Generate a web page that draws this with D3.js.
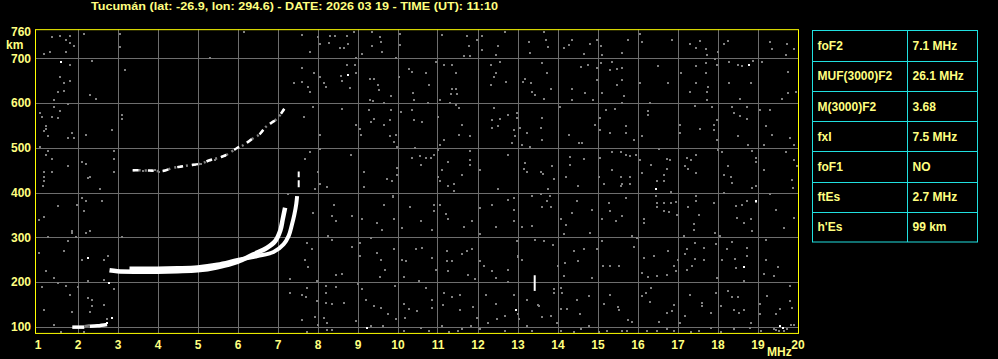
<!DOCTYPE html>
<meta charset="utf-8">
<style>
  body { margin: 0; background: #000; }
  text { font-family: "Liberation Sans", Arial, sans-serif; font-weight: bold; fill: #ffff80; }
</style>
<script src="https://d3js.org/d3.v7.min.js"></script>
<div id="my_dataviz"></div>
<script>

// ---- data ----
var titleText = "Tucumán (lat: -26.9, lon: 294.6) - DATE: 2026 03 19 - TIME (UT): 11:10";

var freqTicks = d3.range(1, 21);                       // MHz
var heightTicks = [100, 200, 300, 400, 500, 600, 700, 760]; // km

// table of scaled parameters
var paramNames  = ["foF2", "MUF(3000)F2", "M(3000)F2", "fxI", "foF1", "ftEs", "h'Es"];
var paramValues = ["7.1 MHz", "26.1 MHz", "3.68", "7.5 MHz", "NO", "2.7 MHz", "99 km"];

// ordinary F trace
var oFreq   = [2.8, 3.0, 3.5, 4.0, 4.5, 5.0, 5.5, 6.0, 6.4, 6.73, 6.94, 7.07, 7.13, 7.19];
var oHeight = [226, 224, 223, 223, 224, 226, 233, 245, 262, 276, 291, 315, 340, 366];

// extraordinary F trace
var xFreq   = [3.3, 4.0, 4.5, 5.0, 5.5, 6.0, 6.5, 6.9, 7.15, 7.28, 7.36, 7.42, 7.47, 7.49];
var xHeight = [230, 230, 231, 233, 239, 249, 258, 267, 284, 303, 328, 350, 375, 392];

// loose top piece of the x trace
var xTopFreq   = [7.53, 7.53];
var xTopHeight = [412, 447];

// second hop (2F) trace
var hop2Freq   = [3.38, 3.8, 4.13, 4.38, 4.6, 4.8, 5.1, 5.3, 5.55, 5.72, 6.0, 6.13, 6.37, 6.55, 6.7, 6.85, 7.0, 7.19];
var hop2Height = [450, 449, 448, 455, 458, 461, 465, 472, 478, 484, 500, 505, 520, 530, 546, 556, 566, 590];

// sporadic E pieces
var es1Freq = [1.87, 2.17], es1Height = [99, 99];
var es2Freq = [2.31, 2.5, 2.74], es2Height = [101, 102, 105];

// short vertical echo near 13.4 MHz
var spikeFreq = [13.43, 13.43], spikeHeight = [180, 215];

// isolated white echoes
var whitePoints = [[1.55,693],[2.23,255],[2.75,199],[2.84,122],[2.72,110],[8.73,665],[12.93,139],[18.76,688],
  [16.44,409],[18.93,383],[18.63,235],[19.53,104],[19.6,99],[9.2,99]];

// grey noise echoes
var noisePoints = [
  [1.34,749],[1.53,751],[1.78,752],[1.69,743],[1.78,736],[1.88,730],[2.13,756],[3.03,756],[3.03,728],[1.13,712],
  [1.28,717],[1.69,717],[1.78,688],[2.34,697],[3.17,675],[5.28,703],[1.53,660],[1.63,646],[1.78,652],[1.48,626],
  [1.63,630],[2.28,621],[2.44,612],[1.38,608],[1.38,594],[1.53,585],[1.73,599],[1.03,581],[1.08,572],[1.34,572],
  [1.48,568],[3.09,576],[3.09,567],[1.18,550],[1.18,545],[1.13,539],[1.23,528],[1.83,535],[1.73,524],[1.88,523],
  [2.19,531],[2.84,541],[1.03,505],[1.23,496],[1.18,487],[1.34,478],[2.89,494],[2.89,478],[2.08,470],[2.19,465],
  [1.73,461],[1.13,447],[1.34,447],[1.13,438],[1.13,429],[1.1,416],[2.28,438],[2.23,434],[2.89,447],[2.53,409],
  [2.08,390],[2.19,383],[2.58,383],[1.48,371],[1.95,374],[2.13,360],[1.13,347],[1.0,340],[1.83,316],[1.83,312],
  [2.28,316],[2.19,312],[1.23,302],[1.93,302],[3.09,302],[1.73,293],[1.63,271],[1.0,266],[2.08,252],[2.63,251],
  [2.74,260],[1.18,226],[1.38,211],[1.48,200],[1.68,194],[2.23,204],[2.63,206],[2.88,187],[1.08,191],[1.98,190],
  [1.78,172],[2.23,167],[2.33,163],[2.33,148],[2.63,151],[1.83,135],[2.28,135],[1.13,139],[1.38,107],[2.72,119],
  [1.57,90],[2.13,90],[3.6,451],[3.9,452],[4.0,447],[4.9,464],[5.05,466],[5.4,476],[5.65,484],
  // 6 - 10 MHz
  [6.13,762],[7.59,754],[7.98,749],[8.28,752],[8.4,751],[8.7,751],[8.88,762],[9.34,762],[9.53,749],[10.03,757],
  [8.03,734],[8.26,736],[8.53,725],[8.63,725],[8.73,734],[9.34,730],[9.57,739],[10.03,732],[7.78,717],[9.09,712],
  [8.93,702],[9.59,717],[9.93,702],[7.59,680],[7.88,670],[8.03,661],[7.38,646],[7.59,650],[7.73,639],[7.78,626],
  [8.13,646],[8.2,639],[8.55,663],[8.59,652],[8.7,687],[8.9,687],[8.78,635],[8.95,669],[9.28,655],[9.38,655],
  [9.48,643],[9.5,632],[9.8,617],[10.0,661],[10.26,678],[10.34,672],[10.37,624],[10.38,609],[9.28,609],[9.37,606],
  [9.63,602],[7.87,594],[7.63,571],[8.59,590],[9.26,587],[9.38,566],[9.3,559],[9.63,554],[9.78,565],[9.8,587],
  [10.05,583],[10.34,587],[10.38,565],[8.03,531],[8.93,554],[9.03,544],[9.05,531],[9.78,528],[9.93,531],[9.88,516],
  [9.97,505],[7.78,492],[7.65,478],[8.03,499],[8.8,487],[9.13,447],[9.97,457],[9.95,442],[10.34,479],[10.4,501],
  [7.98,447],[7.9,410],[8.03,422],[8.22,414],[9.13,414],[9.7,432],[9.84,429],[9.87,395],[9.87,392],[7.23,400],
  [7.87,357],[8.38,374],[8.34,349],[8.43,338],[8.84,349],[9.09,342],[9.45,334],[9.58,319],[9.63,374],[9.88,342],
  [10.09,323],[10.28,369],[8.23,306],[8.34,296],[7.7,290],[7.84,275],[8.84,281],[9.03,290],[9.03,261],[9.32,301],
  [9.45,267],[9.55,252],[9.88,275],[10.09,252],[10.18,249],[10.45,275],[7.65,252],[7.73,235],[7.28,209],[7.7,189],
  [7.97,204],[8.18,193],[8.18,178],[8.45,217],[8.59,221],[8.45,191],[8.98,197],[9.09,186],[9.53,214],[9.65,230],
  [9.9,193],[10.13,214],[7.28,178],[7.59,172],[7.68,169],[7.97,159],[8.2,156],[8.34,152],[8.63,156],[9.18,163],
  [9.38,148],[9.57,145],[9.74,130],[10.13,152],[10.26,141],[7.59,117],[7.9,125],[7.98,105],[8.13,122],[8.22,111],
  [8.22,95],[8.34,95],[7.72,90],[8.93,115],[9.3,104],[9.62,104],[9.93,119],[10.13,93],[10.15,122],
  // 10.5 - 15 MHz
  [11.09,754],[11.7,752],[11.76,730],[11.63,707],[11.78,707],[11.95,743],[12.09,752],[12.09,721],[12.48,730],[12.44,710],
  [12.65,762],[13.26,739],[13.29,715],[13.63,762],[13.68,743],[13.73,728],[14.13,726],[14.26,732],[14.34,743],[14.63,712],
  [14.78,734],[14.95,743],[15.05,730],[15.09,710],[10.94,693],[11.13,687],[11.34,687],[11.45,670],[10.7,670],[10.76,643],
  [11.34,633],[11.45,633],[11.3,623],[11.47,623],[12.3,687],[12.53,693],[12.43,670],[12.38,661],[12.7,650],[12.3,643],
  [13.15,655],[13.12,650],[13.3,648],[13.34,626],[13.4,620],[13.59,691],[13.7,670],[13.8,633],[13.63,611],[14.34,633],
  [14.57,682],[14.73,687],[14.95,680],[14.95,654],[14.34,609],[14.67,624],[14.87,609],[15.07,691],[15.09,624],[11.03,608],
  [11.28,603],[11.45,598],[11.51,591],[10.73,602],[11.0,571],[10.58,559],[11.59,554],[11.13,519],[11.51,531],[11.78,528],
  [11.03,509],[12.38,591],[12.53,566],[12.34,565],[12.34,546],[12.48,551],[12.73,576],[12.95,581],[12.97,568],[12.88,542],
  [12.9,528],[12.84,513],[13.09,509],[13.03,546],[13.22,536],[13.59,568],[13.57,546],[13.59,520],[13.29,505],[14.03,594],
  [14.26,531],[14.51,513],[14.59,513],[14.9,554],[15.03,568],[15.03,542],[15.18,587],[10.53,484],[10.7,479],[10.8,479],
  [10.88,487],[10.55,464],[11.0,498],[10.98,438],[11.03,427],[11.09,452],[11.23,470],[11.38,422],[11.23,417],[11.38,405],
  [11.59,442],[11.78,496],[11.78,474],[11.78,464],[12.03,452],[12.73,487],[12.48,409],[13.13,455],[13.17,468],[13.2,449],
  [13.55,449],[13.62,444],[13.88,432],[13.73,409],[13.84,461],[14.28,481],[14.28,464],[14.63,477],[14.18,438],[14.48,416],
  [15.03,479],[15.01,438],[15.13,422],[10.88,374],[11.03,374],[10.88,360],[11.18,355],[11.23,343],[10.55,338],[10.84,319],
  [11.63,325],[11.84,338],[12.03,368],[12.03,310],[12.34,374],[12.44,325],[12.73,386],[12.88,390],[12.88,364],[12.88,338],
  [13.09,325],[13.34,394],[13.34,328],[13.57,400],[13.7,383],[13.78,395],[13.59,370],[13.8,369],[14.05,343],[14.19,330],
  [14.13,310],[14.34,356],[14.45,383],[14.84,364],[14.78,312],[15.09,342],[10.59,278],[10.84,256],[10.94,230],[11.2,271],
  [11.2,249],[11.34,249],[11.23,226],[11.59,264],[11.7,271],[11.84,275],[11.73,217],[11.9,209],[12.03,249],[12.13,238],
  [12.34,226],[12.44,212],[12.73,230],[12.73,202],[12.97,293],[12.98,261],[12.98,257],[13.09,252],[13.4,295],[13.63,293],
  [13.87,284],[13.98,238],[14.15,245],[14.13,215],[14.38,271],[14.48,249],[14.63,275],[14.84,212],[14.95,275],[15.09,293],
  [15.12,238],[10.51,204],[10.7,189],[10.84,162],[10.84,145],[11.13,177],[11.12,150],[11.34,169],[11.53,172],[11.53,139],
  [11.87,147],[12.2,172],[12.44,152],[12.65,126],[12.88,172],[12.98,130],[13.22,163],[13.48,150],[13.5,148],[13.88,186],
  [13.88,177],[14.07,189],[14.09,178],[14.05,141],[14.22,142],[14.47,163],[14.53,130],[14.76,171],[15.13,154],[10.47,137],
  [10.55,100],[10.76,93],[11.09,104],[11.26,90],[11.48,93],[11.59,98],[11.8,104],[11.97,122],[12.03,96],[12.23,111],
  [12.47,119],[12.65,93],[13.01,119],[13.22,104],[13.34,93],[13.59,125],[13.8,126],[13.95,111],[14.05,93],[14.38,90],
  [14.55,96],[14.76,104],[15.01,90],
  // 15 - 20 MHz
  [16.03,757],[15.73,743],[15.59,715],[16.09,739],[16.84,743],[17.28,734],[17.53,741],[17.45,726],[17.68,724],[17.7,710],
  [17.98,717],[18.13,734],[18.23,741],[19.28,739],[19.33,722],[19.72,735],[19.68,710],[19.9,724],[15.34,693],[15.28,676],
  [15.45,678],[15.59,680],[15.59,654],[15.45,643],[15.63,617],[15.59,603],[16.03,648],[16.48,684],[16.73,648],[17.05,670],
  [17.28,626],[17.45,648],[17.43,684],[17.68,691],[17.68,669],[17.75,639],[17.7,628],[17.72,609],[17.9,700],[17.95,687],
  [18.26,693],[18.48,687],[18.59,684],[18.87,697],[19.09,693],[18.26,648],[18.53,611],[18.82,646],[19.73,672],[19.73,624],
  [19.93,628],[19.59,611],[15.4,588],[16.28,602],[16.23,585],[16.23,576],[15.28,535],[15.68,550],[15.7,536],[15.88,520],
  [16.09,528],[17.03,554],[17.03,536],[17.4,596],[17.53,544],[17.84,593],[17.95,565],[17.88,554],[17.88,542],[17.97,520],
  [18.34,593],[18.38,581],[18.53,574],[18.7,593],[18.7,566],[18.48,528],[18.73,509],[19.03,587],[19.28,587],[19.18,550],
  [19.34,531],[19.78,524],[19.88,509],[19.13,509],[15.34,492],[15.55,492],[15.68,487],[15.78,483],[15.93,487],[15.34,453],
  [15.55,438],[15.78,438],[15.59,422],[15.78,422],[15.55,416],[16.03,474],[16.09,446],[16.3,464],[16.51,499],[16.7,477],
  [16.78,474],[16.7,455],[16.63,442],[16.45,428],[16.65,428],[16.8,403],[17.2,479],[17.3,475],[17.15,462],[17.23,455],
  [17.45,487],[17.45,446],[17.98,498],[18.09,492],[18.23,461],[18.3,438],[18.13,442],[18.34,423],[18.84,494],[18.93,479],
  [18.95,470],[18.95,417],[18.84,412],[19.13,452],[19.68,492],[19.88,474],[19.95,461],[19.84,431],[19.87,412],[15.26,379],
  [15.28,360],[15.43,338],[15.59,349],[15.68,390],[15.84,306],[15.88,281],[15.96,301],[16.13,342],[16.13,334],[16.43,395],
  [16.45,379],[16.45,370],[16.63,379],[16.65,360],[16.76,358],[16.8,379],[16.93,380],[16.97,353],[17.24,370],[17.45,395],
  [17.45,383],[17.38,332],[17.38,319],[17.13,305],[17.51,353],[17.88,379],[17.9,312],[18.03,305],[18.13,401],[18.43,371],
  [18.47,345],[18.59,375],[18.63,334],[18.7,383],[18.82,342],[18.84,316],[18.93,380],[19.28,400],[19.43,364],[19.63,323],
  [19.88,345],[15.28,239],[15.51,239],[16.13,256],[16.09,223],[16.38,260],[16.23,214],[16.47,215],[16.7,217],[16.73,271],
  [16.98,252],[16.88,239],[16.93,226],[17.2,275],[17.15,264],[17.2,230],[17.4,290],[17.4,254],[17.34,239],[17.63,278],
  [17.63,252],[17.93,286],[17.97,212],[18.09,252],[18.34,291],[18.2,275],[18.4,254],[18.43,234],[18.7,278],[18.7,260],
  [18.63,204],[19.18,297],[19.18,252],[19.13,221],[19.38,215],[19.48,236],[19.78,194],[15.28,172],[15.48,147],[15.51,139],
  [15.73,117],[15.84,113],[16.18,178],[16.09,170],[16.3,189],[16.28,157],[16.51,113],[16.72,133],[16.88,150],[16.84,137],
  [17.03,110],[17.15,126],[17.28,172],[17.59,156],[17.59,148],[17.8,133],[17.93,178],[18.05,148],[18.23,182],[18.34,169],
  [18.48,169],[18.38,139],[18.63,139],[18.5,133],[18.8,111],[19.03,152],[19.03,130],[19.2,171],[19.43,130],[19.53,141],
  [19.78,159],[19.84,145],[19.8,107],[19.88,107],[15.22,93],[15.59,93],[15.72,93],[16.2,93],[16.47,93],[16.72,96],
  [16.88,93],[17.3,90],[17.51,93],[17.8,100],[18.05,90],[18.38,96],[18.78,100],[19.05,93],[19.38,96],[19.63,93],
  [19.45,95],[19.5,92],[19.7,96]
];

// ---- layout ----
var svg = d3.select("#my_dataviz")
  .append("svg")
    .attr("width", 998)
    .attr("height", 359)
    .style("background", "#000");

var x = d3.scaleLinear().domain([1, 20]).range([37.5, 797.5]);
var y = d3.scaleLinear().domain([100, 700]).range([326.7, 58.3]);

var frameLeft = x(1) - 2, frameRight = x(20) + 1,
    frameTop = y(764), frameBottom = y(85);

// title
svg.append("text")
  .attr("x", 91)
  .attr("y", 10)
  .attr("textLength", 407)
  .attr("lengthAdjust", "spacingAndGlyphs")
  .style("font-size", "11.5px")
  .text(titleText);

// grid
var grid = svg.append("g").attr("stroke", "#6e6e6e").attr("stroke-width", 1);
grid.selectAll(".vline")
  .data(freqTicks.filter(function(d){ return d > 1 && d < 20 }))
  .enter().append("line")
    .attr("x1", function(d){ return Math.round(x(d)) + 0.5 })
    .attr("x2", function(d){ return Math.round(x(d)) + 0.5 })
    .attr("y1", frameTop)
    .attr("y2", frameBottom);
grid.selectAll(".hline")
  .data(heightTicks.filter(function(d){ return d <= 700 }))
  .enter().append("line")
    .attr("x1", frameLeft)
    .attr("x2", frameRight)
    .attr("y1", function(d){ return Math.round(y(d)) + 0.5 })
    .attr("y2", function(d){ return Math.round(y(d)) + 0.5 });

// noise
svg.append("g").selectAll("rect")
  .data(noisePoints)
  .enter().append("rect")
    .attr("x", function(d){ return Math.round(x(d[0])) })
    .attr("y", function(d){ return Math.round(y(d[1])) })
    .attr("width", 2)
    .attr("height", 2)
    .attr("fill", "#808080");

// traces
var line = d3.line()
  .x(function(d){ return x(d[0]) })
  .y(function(d){ return y(d[1]) })
  .curve(d3.curveCatmullRom);

function zip(a, b) { return a.map(function(v, i){ return [v, b[i]] }) }

var traces = svg.append("g").attr("fill", "none").attr("stroke-linecap", "butt");

traces.append("path").attr("d", line(zip(oFreq, oHeight))).attr("stroke", "#fff").attr("stroke-width", 4.5);
traces.append("path").attr("d", line(zip(xFreq, xHeight))).attr("stroke", "#fff").attr("stroke-width", 4);
traces.append("path").attr("d", line(zip(xTopFreq, xTopHeight))).attr("stroke", "#fff").attr("stroke-width", 2)
  .attr("stroke-dasharray", "7,3");

// second hop
traces.append("path").attr("d", line(zip(hop2Freq, hop2Height)))
  .attr("stroke", "#808080").attr("stroke-width", 2.5).attr("stroke-dasharray", "2,4");
traces.append("path").attr("d", line(zip(hop2Freq, hop2Height)))
  .attr("stroke", "#fff").attr("stroke-width", 2.5).attr("stroke-dasharray", "6,9");

// sporadic E
traces.append("path").attr("d", line(zip(es1Freq, es1Height))).attr("stroke", "#fff").attr("stroke-width", 3.5);
traces.append("path").attr("d", line([[es1Freq[1], es1Height[1] + 2], [es2Freq[0], es2Height[0] + 2]]))
  .attr("stroke", "#808080").attr("stroke-width", 2.5);
traces.append("path").attr("d", line(zip(es2Freq, es2Height))).attr("stroke", "#fff").attr("stroke-width", 3.5);

// vertical echo
traces.append("path").attr("d", line(zip(spikeFreq, spikeHeight))).attr("stroke", "#fff").attr("stroke-width", 2);

// white dots
svg.append("g").selectAll("rect")
  .data(whitePoints)
  .enter().append("rect")
    .attr("x", function(d){ return Math.round(x(d[0])) })
    .attr("y", function(d){ return Math.round(y(d[1])) })
    .attr("width", 2)
    .attr("height", 2)
    .attr("fill", "#fff");

// frame
svg.append("rect")
  .attr("x", frameLeft)
  .attr("y", frameTop)
  .attr("width", frameRight - frameLeft)
  .attr("height", frameBottom - frameTop)
  .attr("fill", "none")
  .attr("stroke", "#ffff00")
  .attr("stroke-width", 1);

// axes
var xAxis = svg.append("g")
  .attr("transform", "translate(0," + frameBottom + ")")
  .call(d3.axisBottom(x).tickValues(freqTicks).tickSize(0).tickPadding(7).tickFormat(d3.format("d")));
var yAxis = svg.append("g")
  .attr("transform", "translate(33,0)")
  .call(d3.axisLeft(y).tickValues(heightTicks).tickSize(0).tickPadding(2).tickFormat(d3.format("d")));
[xAxis, yAxis].forEach(function(a){
  a.select(".domain").remove();
  a.selectAll("text")
    .attr("fill", "#ffff80")
    .style("font-family", "'Liberation Sans', Arial, sans-serif")
    .style("font-weight", "bold")
    .style("font-size", "12px");
});

svg.append("text").attr("x", 6).attr("y", 49).style("font-size", "12px").text("km");
svg.append("text").attr("x", 767).attr("y", 356).style("font-size", "12px").text("MHz");

// parameter table
var tableLeft = 812.5, tableRight = 977.5, tableDiv = 907.5;
var rows = d3.scaleBand().domain(paramNames).range([30.5, 242]);

var table = svg.append("g");
table.append("rect")
  .attr("x", tableLeft).attr("y", rows.range()[0])
  .attr("width", tableRight - tableLeft).attr("height", rows.range()[1] - rows.range()[0])
  .attr("fill", "none").attr("stroke", "#20e0e0");
table.append("line")
  .attr("x1", tableDiv).attr("x2", tableDiv)
  .attr("y1", rows.range()[0]).attr("y2", rows.range()[1])
  .attr("stroke", "#20e0e0");
table.selectAll(".sep")
  .data(paramNames.slice(1))
  .enter().append("line")
    .attr("x1", tableLeft).attr("x2", tableRight)
    .attr("y1", function(d){ return Math.round(rows(d)) + 0.5 })
    .attr("y2", function(d){ return Math.round(rows(d)) + 0.5 })
    .attr("stroke", "#20e0e0");
table.selectAll(".pname")
  .data(paramNames)
  .enter().append("text")
    .attr("x", tableLeft + 5)
    .attr("y", function(d){ return rows(d) + rows.bandwidth() / 2 + 4.5 })
    .style("font-size", "12px")
    .text(function(d){ return d });
table.selectAll(".pval")
  .data(paramValues)
  .enter().append("text")
    .attr("x", tableDiv + 5)
    .attr("y", function(d, i){ return rows(paramNames[i]) + rows.bandwidth() / 2 + 4.5 })
    .style("font-size", "12px")
    .text(function(d){ return d });

</script>
